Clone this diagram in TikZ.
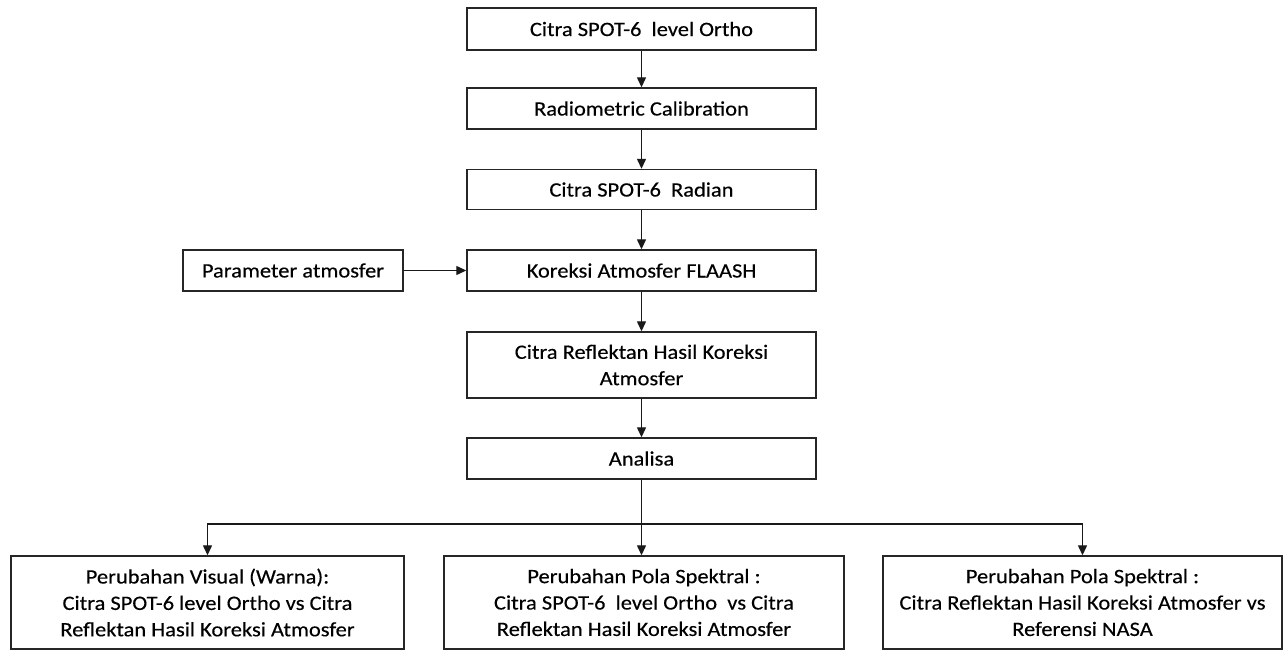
\documentclass[tikz,border=0pt]{standalone}
\usepackage{fontspec}
\setmainfont{Carlito}[FakeStretch=1.1,FakeBold=0.3]
\usetikzlibrary{arrows.meta}
\begin{document}
\begin{tikzpicture}[x=1bp,y=-1bp,
  box/.style={draw=black!85, line width=1.4bp, inner sep=0pt, align=center,
    font=\fontsize{20.5}{26.5}\selectfont},
  arr/.style={draw=black!90, line width=1.3bp, -{Triangle[length=10bp,width=9bp]}}]
\useasboundingbox (0,0) rectangle (1283,650);
\fill[white] (0,0) rectangle (1283,650);
\node[box, minimum width=349bp, minimum height=42bp] (n1) at (641.5,29) {Citra SPOT-6~ level Ortho};
\node[box, minimum width=349bp, minimum height=41bp] (n2) at (641.5,108.5) {Radiometric Calibration};
\node[box, minimum width=349bp, minimum height=40bp] (n3) at (641.5,189.5) {Citra SPOT-6~ Radian};
\node[box, minimum width=349bp, minimum height=41bp] (n4) at (641.5,270.5) {Koreksi Atmosfer FLAASH};
\node[box, minimum width=220bp, minimum height=41bp] (par) at (293,270.5) {Parameter atmosfer};
\node[box, minimum width=349bp, minimum height=66bp] (n5) at (641.5,365) {Citra Reflektan Hasil Koreksi\\Atmosfer};
\node[box, minimum width=349bp, minimum height=41bp] (n6) at (641.5,458.5) {Analisa};
\node[box, minimum width=393bp, minimum height=93bp] (b1) at (207.5,602.5) {Perubahan Visual (Warna):\\Citra SPOT-6 level Ortho vs Citra\\Reflektan Hasil Koreksi Atmosfer};
\node[box, minimum width=400bp, minimum height=93bp] (b2) at (644,602.5) {Perubahan Pola Spektral :\\Citra SPOT-6~ level Ortho~ vs Citra\\Reflektan Hasil Koreksi Atmosfer};
\node[box, minimum width=399bp, minimum height=93bp] (b3) at (1082.5,602.5) {Perubahan Pola Spektral :\\Citra Reflektan Hasil Koreksi Atmosfer vs\\Referensi NASA};
\coordinate (hl) at (641.5,524);
\draw[arr] (n1) -- (n2);
\draw[arr] (n2) -- (n3);
\draw[arr] (n3) -- (n4);
\draw[arr] (par) -- (n4);
\draw[arr] (n4) -- (n5);
\draw[arr] (n5) -- (n6);
\draw[arr] (n6.south) -- (n6.south |- b2.north);
\draw[arr] (hl) -| (b1.north);
\draw[arr] (hl) -| (b3.north);
\end{tikzpicture}
\end{document}
